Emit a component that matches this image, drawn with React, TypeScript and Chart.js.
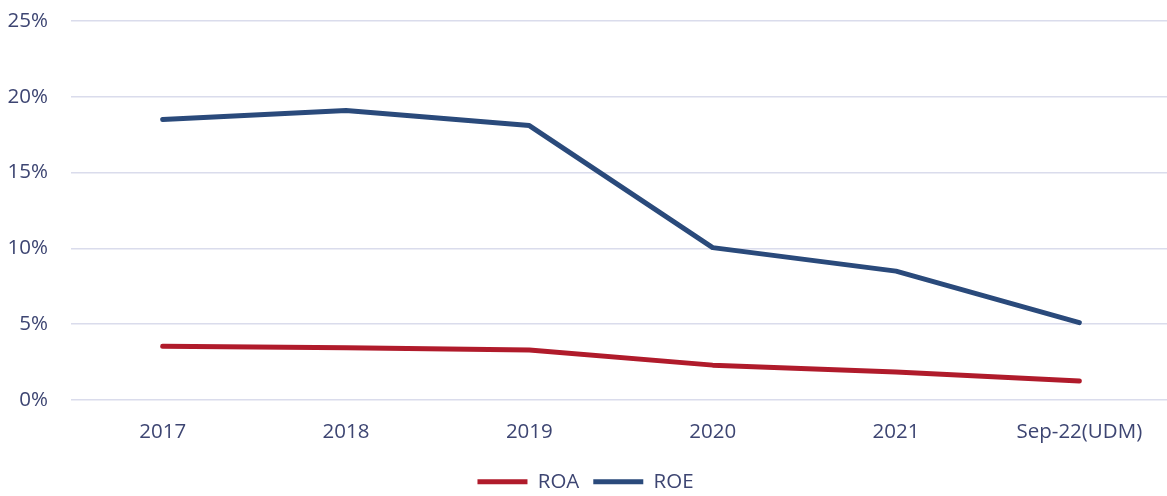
import React, { useEffect, useRef } from "react";
import { Chart, registerables } from "chart.js";

Chart.register(...registerables);

const categories = ["2017", "2018", "2019", "2020", "2021", "Sep-22(UDM)"];
const roa = [3.55, 3.45, 3.3, 2.3, 1.85, 1.25];
const roe = [18.5, 19.1, 18.1, 10.05, 8.5, 5.1];
const yTicks = [0, 5, 10, 15, 20, 25];

const TEXT = "#3d4572";
const FONT = "'Open Sans', 'Noto Sans', sans-serif";
const FS = 20.5;

export default function App() {
  const ref = useRef<HTMLCanvasElement | null>(null);
  useEffect(() => {
    if (!ref.current) return;
    const chart = new Chart(ref.current, {
      type: "line",
      data: {
        labels: categories,
        datasets: [
          {
            label: "ROA",
            data: roa,
            borderColor: "#b01b2b",
            backgroundColor: "#b01b2b",
            borderWidth: 5,
            borderCapStyle: "round",
            borderJoinStyle: "round",
            pointRadius: 0,
            tension: 0,
          },
          {
            label: "ROE",
            data: roe,
            borderColor: "#2a4a7b",
            backgroundColor: "#2a4a7b",
            borderWidth: 5,
            borderCapStyle: "round",
            borderJoinStyle: "round",
            pointRadius: 0,
            tension: 0,
          },
        ],
      },
      options: {
        animation: false,
        responsive: false,
        maintainAspectRatio: false,
        layout: { padding: { top: 21, left: 0, right: 0, bottom: 0 } },
        plugins: {
          tooltip: { enabled: false },
          legend: {
            position: "bottom",
            labels: {
              usePointStyle: true,
              pointStyle: "line",
              pointStyleWidth: 50,
              boxHeight: 5,
              color: TEXT,
              font: { family: FONT, size: FS },
              padding: 14,
            },
          },
        },
        scales: {
          x: {
            offset: true,
            grid: { display: false, drawTicks: false },
            border: { display: false },
            ticks: { color: TEXT, font: { family: FONT, size: FS }, padding: 20, maxRotation: 0 },
            afterFit: (s: any) => {
              s.height = 57.5;
              s.paddingLeft = 0;
              s.paddingRight = 0;
            },
          },
          y: {
            min: 0,
            max: 25,
            afterBuildTicks: (s: any) => {
              s.ticks = yTicks.map((v) => ({ value: v }));
            },
            afterFit: (s: any) => {
              s.width = 71;
              s.paddingTop = 0;
              s.paddingBottom = 0;
            },
            grid: { color: "#dadcec", lineWidth: 1.5, drawTicks: false },
            border: { display: false },
            ticks: {
              color: TEXT,
              font: { family: FONT, size: FS },
              padding: 23,
              callback: (v: any) => v + "%",
            },
          },
        },
      },
    });
    return () => chart.destroy();
  }, []);
  return (
    <div style={{ position: "absolute", left: 0, top: 0, width: 1167, height: 496, overflow: "hidden", background: "#fff" }}>
      <canvas ref={ref} width={1171} height={502} style={{ display: "block" }} />
    </div>
  );
}
